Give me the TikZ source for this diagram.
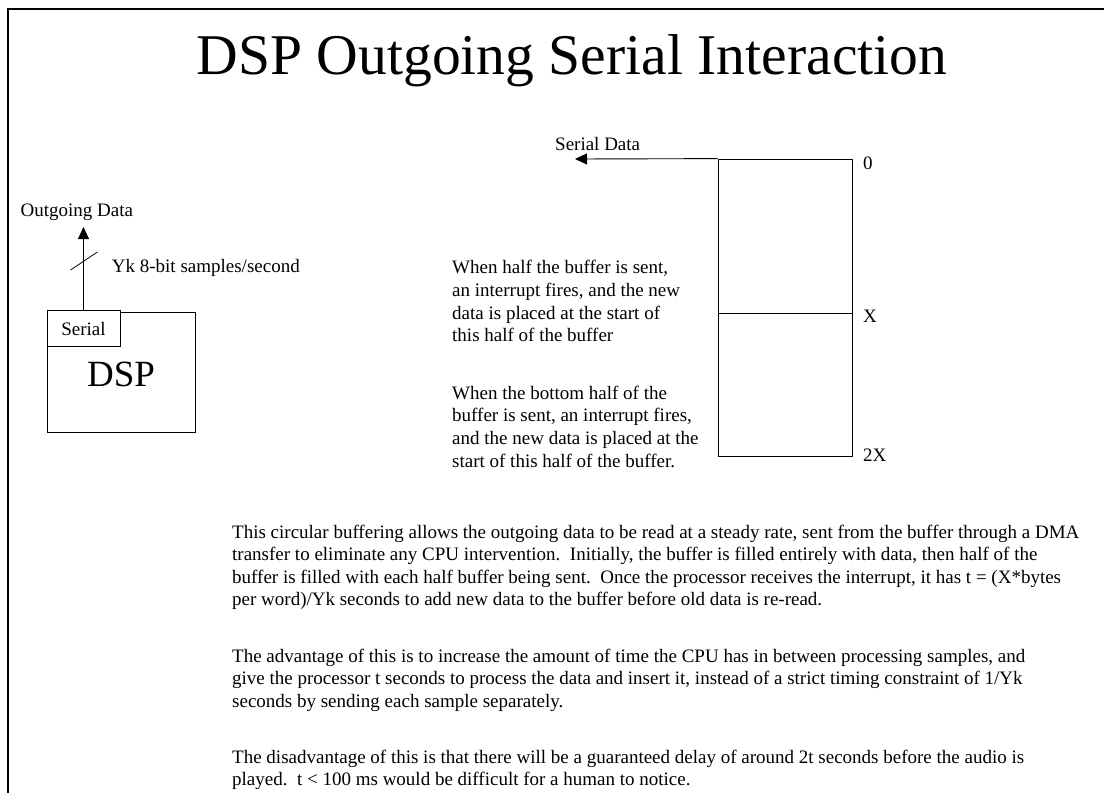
\documentclass[tikz,border=0pt]{standalone}
\usepackage{fontspec}
\setmainfont{Liberation Serif}
\usetikzlibrary{arrows.meta,calc}
\begin{document}
\begin{tikzpicture}[x=1pt,y=-1pt,
  txt/.style={inner sep=0pt,anchor=base west,font=\fontsize{19}{22.6}\selectfont},
  thinbox/.style={draw,line width=0.8pt,inner sep=0pt},
  arr/.style={line width=0.9pt,-{Triangle[length=12pt,width=11pt]}}]
\useasboundingbox (0,0) rectangle (1104,793);
% page frame
\draw[line width=2pt] (8,794) -- (8,9) -- (1110,9);
% title
\node[inner sep=0pt,anchor=base,font=\fontsize{57.6}{60}\selectfont] (title) at (572,74) {DSP Outgoing Serial Interaction};

% DSP block with its serial port
\node[thinbox,minimum width=148pt,minimum height=120pt] (dsp) at (121,372) {};
\node[inner sep=0pt,anchor=base,font=\fontsize{37}{40}\selectfont] (dsplabel) at (121,386) {DSP};
\node[thinbox,fill=white,minimum width=73pt,minimum height=36pt] (serial) at (83.5,328) {};
\node[inner sep=0pt,anchor=base,font=\fontsize{19}{22}\selectfont] (seriallabel) at (83.5,335) {Serial};
\coordinate (outtip) at (83.5,227);
\draw[arr] (serial.north) -- (outtip);
\coordinate (slashmid) at (83.5,261);
\draw[line width=0.8pt] ($(slashmid)+(-13,9)$) -- ($(slashmid)+(14,-9)$);
\node[txt] (outlabel) at (20.5,216.7) {Outgoing Data};
\node[txt] (ratelabel) at (111.7,272.7) {Yk 8-bit samples/second};

% circular buffer
\node[thinbox,minimum width=134pt,minimum height=154pt] (tophalf) at (785,236) {};
\node[thinbox,minimum width=134pt,minimum height=143pt] (bothalf) at (785,384.5) {};
\coordinate (serialtip) at (575,159);
\draw[arr] (tophalf.north west) -- (serialtip);
\node[txt] (serialdata) at (555,150) {Serial Data};
\node[txt] (mark0) at (863,169) {0};
\node[txt] (markX) at (863,322.7) {X};
\node[txt] (mark2X) at (863,461.7) {2X};

% notes beside the buffer
\node[txt] (a1) at (452,273.5) {When half the buffer is sent,};
\node[txt] (a2) at (452,296.3) {an interrupt fires, and the new};
\node[txt] (a3) at (452,319.1) {data is placed at the start of};
\node[txt] (a4) at (452,341.9) {this half of the buffer};
\node[txt] (b1) at (452,399) {When the bottom half of the};
\node[txt] (b2) at (452,421.8) {buffer is sent, an interrupt fires,};
\node[txt] (b3) at (452,444.6) {and the new data is placed at the};
\node[txt] (b4) at (452,467.4) {start of this half of the buffer.};

% explanation
\node[txt] (p11) at (232,538) {This circular buffering allows the outgoing data to be read at a steady rate, sent from the buffer through a DMA};
\node[txt] (p12) at (232,560.5) {transfer to eliminate any CPU intervention.\ \ Initially, the buffer is filled entirely with data, then half of the};
\node[txt] (p13) at (232,583) {buffer is filled with each half buffer being sent.\ \ Once the processor receives the interrupt, it has t = (X*bytes};
\node[txt] (p14) at (232,605.5) {per word)/Yk seconds to add new data to the buffer before old data is re-read.};
\node[txt] (p21) at (232,662) {The advantage of this is to increase the amount of time the CPU has in between processing samples, and};
\node[txt] (p22) at (232,684.5) {give the processor t seconds to process the data and insert it, instead of a strict timing constraint of 1/Yk};
\node[txt] (p23) at (232,707) {seconds by sending each sample separately.};
\node[txt] (p31) at (232,763) {The disadvantage of this is that there will be a guaranteed delay of around 2t seconds before the audio is};
\node[txt] (p32) at (232,785.5) {played.\ \ t < 100 ms would be difficult for a human to notice.};
\end{tikzpicture}
\end{document}
